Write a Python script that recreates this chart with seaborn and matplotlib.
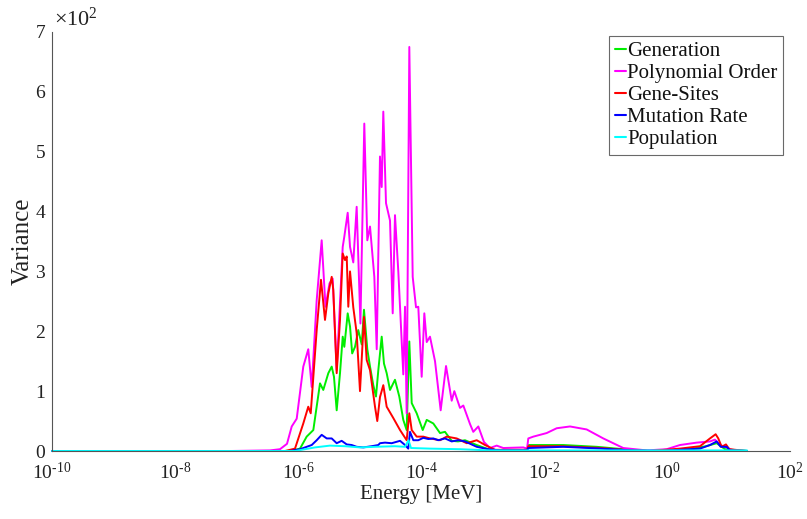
import numpy as np
import pandas as pd
import matplotlib
matplotlib.use("Agg")
import matplotlib.pyplot as plt
import seaborn as sns
from matplotlib.ticker import FixedLocator, FuncFormatter, NullLocator

# Series values: log10(E / MeV) exponents and variance
gen_logE = [-10, -6.130, -5.967, -5.859, -5.751, -5.642, -5.589, -5.507, -5.452, -5.415,
            -5.371, -5.317, -5.273, -5.247, -5.192, -5.154, -5.119, -5.073, -5.020, -4.964,
            -4.927, -4.873, -4.829, -4.776, -4.732, -4.694, -4.639, -4.602, -4.558, -4.504,
            -4.423, -4.353, -4.288, -4.233, -4.190, -4.151, -4.070, -3.972, -3.907, -3.800,
            -3.691, -3.610, -3.501, -3.398, -3.285, -3.094, -2.906, -2.715, -2.276, -2.255,
            -1.686, -1.143, -0.711, -0.276, 0.374, 0.634, 0.808, 0.943, 1.301]
gen_var = [0, 0, 4, 24, 35, 113, 102, 130, 141, 124,
           68, 130, 191, 174, 230, 208, 163, 174, 202, 178,
           236, 170, 141, 110, 91, 135, 191, 146, 130, 102,
           119, 91, 52, 35, 183, 80, 63, 35, 52, 46,
           30, 32, 17, 16, 18, 10, 3, 1, 1, 10,
           10, 7, 3, 0, 3, 8, 13, 3, 0]

poly_logE = [-10, -7.106, -6.455, -6.293, -6.179, -6.102, -6.021, -5.914, -5.833, -5.777,
             -5.696, -5.615, -5.553, -5.488, -5.436, -5.371, -5.273, -5.247, -5.192, -5.154,
             -5.101, -5.046, -4.985, -4.922, -4.873, -4.829, -4.759, -4.720, -4.667, -4.639,
             -4.613, -4.569, -4.504, -4.460, -4.423, -4.369, -4.288, -4.260, -4.233, -4.190,
             -4.135, -4.081, -4.044, -3.989, -3.946, -3.907, -3.854, -3.772, -3.680, -3.593,
             -3.501, -3.458, -3.366, -3.312, -3.203, -3.150, -3.068, -2.976, -2.878, -2.769,
             -2.662, -2.337, -2.276, -2.255, -2.174, -1.956, -1.794, -1.577, -1.306, -1.036,
             -0.711, -0.330, -0.005, 0.211, 0.483, 0.699, 0.780, 0.862, 0.943, 1.052, 1.301]
poly_var = [0, 0, 1, 3, 12, 41, 54, 141, 170, 107,
            252, 352, 241, 280, 288, 135, 341, 358, 398, 341,
            315, 408, 213, 547, 352, 375, 291, 170, 492, 441,
            567, 414, 385, 230, 394, 300, 128, 241, 63, 675,
            291, 240, 241, 124, 230, 182, 191, 150, 68, 142,
            84, 100, 72, 76, 45, 32, 41, 15, 5, 9,
            5, 6, 4, 21, 24, 30, 38, 41, 36, 21,
            5, 1, 3, 10, 14, 16, 19, 10, 7, 2, 0]

gene_logE = [-10, -6.211, -6.049, -5.914, -5.833, -5.793, -5.696, -5.626, -5.561, -5.507,
             -5.452, -5.426, -5.371, -5.317, -5.273, -5.236, -5.208, -5.182, -5.154, -5.101,
             -5.046, -4.992, -4.927, -4.883, -4.829, -4.748, -4.711, -4.667, -4.613, -4.558,
             -4.450, -4.341, -4.233, -4.190, -4.151, -4.070, -3.963, -3.854, -3.691, -3.582,
             -3.420, -3.257, -3.094, -2.959, -2.797, -2.390, -2.276, -2.255, -1.717, -1.067,
             -0.711, -0.276, 0.211, 0.537, 0.699, 0.791, 0.834, 0.889, 0.959, 1.013, 1.301]
gene_var = [0, 0, 4, 46, 74, 63, 202, 286, 219, 263,
            291, 269, 130, 219, 330, 319, 325, 241, 300, 240,
            197, 100, 224, 152, 135, 74, 50, 90, 110, 74,
            55, 35, 18, 63, 35, 24, 24, 21, 18, 24,
            21, 13, 18, 10, 2, 2, 2, 8, 8, 5,
            2, 0, 4, 8, 21, 28, 21, 7, 11, 3, 0]

mut_logE = [-10, -6.130, -5.967, -5.859, -5.777, -5.696, -5.615, -5.533, -5.452, -5.371,
            -5.290, -5.208, -5.127, -5.046, -4.938, -4.802, -4.694, -4.667, -4.585, -4.477,
            -4.341, -4.260, -4.207, -4.179, -4.125, -4.044, -3.963, -3.881, -3.800, -3.719,
            -3.610, -3.501, -3.393, -3.285, -3.094, -2.906, -2.715, -2.276, -2.255, -1.686,
            -1.067, -0.585, -0.098, 0.537, 0.699, 0.808, 0.873, 0.971, 1.024, 1.301]
mut_var = [0, 0, 3, 7, 10, 18, 27, 21, 21, 13,
           17, 11, 10, 7, 6, 8, 10, 13, 14, 13,
           17, 10, 4, 32, 18, 18, 22, 20, 21, 18,
           21, 16, 18, 16, 7, 3, 1, 1, 5, 7,
           4, 1, 0, 4, 10, 16, 7, 7, 1, 0]

pop_logE = [-10, -6.049, -5.886, -5.724, -5.480, -5.236, -4.992, -4.748, -4.423, -4.260,
            -4.203, -4.163, -3.854, -3.366, -2.878, 1.301]
pop_var = [0, 0, 3, 6, 9, 8, 6, 7, 8, 7,
           18, 5, 4, 3, 1, 1]

series_names = ["Generation", "Polynomial Order", "Gene-Sites", "Mutation Rate", "Population"]
series_colors = ["#00ee00", "#ff00ff", "#ff0000", "#0000ff", "#00ffff"]
series_data = [(gen_logE, gen_var), (poly_logE, poly_var), (gene_logE, gene_var),
               (mut_logE, mut_var), (pop_logE, pop_var)]

frames = []
for name, (lx, v) in zip(series_names, series_data):
    frames.append(pd.DataFrame({"Energy": 10.0 ** np.asarray(lx),
                                "Variance": np.asarray(v, dtype=float),
                                "Parameter": name}))
df = pd.concat(frames, ignore_index=True)

sns.set_style("white")
plt.rcParams["font.family"] = ["Liberation Serif", "DejaVu Serif"]
plt.rcParams["mathtext.fontset"] = "custom"
plt.rcParams["mathtext.rm"] = "Liberation Serif"
plt.rcParams["mathtext.it"] = "Liberation Serif:italic"
plt.rcParams["axes.unicode_minus"] = False

fig = plt.figure(figsize=(8.07, 5.19), dpi=100)
ax = fig.add_axes([52 / 807, 1 - 451 / 519, 738 / 807, 419 / 519])

sns.lineplot(data=df, x="Energy", y="Variance", hue="Parameter",
             hue_order=series_names, palette=series_colors,
             estimator=None, sort=False, linewidth=1.4, ax=ax)
for ln in ax.lines:
    ln.set_clip_on(False)

ax.set_xscale("log")
ax.set_xlim(1e-10, 1e2)
ax.set_ylim(0, 700)


def decade_label(v, pos):
    k = int(round(np.log10(v)))
    if k < 0:
        return r"$10^{\text{-}%d}$" % (-k)
    return r"$10^{%d}$" % k


ax.xaxis.set_major_locator(FixedLocator([10.0 ** k for k in range(-10, 3, 2)]))
ax.xaxis.set_minor_locator(NullLocator())
ax.xaxis.set_major_formatter(FuncFormatter(decade_label))
ax.yaxis.set_major_locator(FixedLocator(np.arange(0, 701, 100)))
ax.yaxis.set_major_formatter(FuncFormatter(lambda v, p: "%d" % round(v / 100)))

for side in ("top", "right"):
    ax.spines[side].set_visible(False)
for side in ("left", "bottom"):
    ax.spines[side].set_color("#555555")
    ax.spines[side].set_linewidth(0.8)
ax.tick_params(axis="both", direction="in", length=5, width=0.8, color="#555555",
               labelsize=14, labelcolor="#222222")
ax.tick_params(axis="x", pad=8)
ax.tick_params(axis="y", pad=5)

ax.set_xlabel("Energy [MeV]", fontsize=15, color="#222222", labelpad=1)
ax.set_ylabel("Variance", fontsize=18, color="#222222", labelpad=1)
ax.text(0.003, 1.004, r"$\times10^{2}$", transform=ax.transAxes, fontsize=16,
        color="#222222", ha="left", va="bottom")

handles, labels = ax.get_legend_handles_labels()
leg = ax.legend(handles, labels, loc="upper right", bbox_to_anchor=(0.99, 0.99),
                borderaxespad=0, frameon=True, fancybox=False, fontsize=15,
                handlelength=0.55, handletextpad=0.05, labelspacing=0.12,
                borderpad=0.25)
leg.get_frame().set_edgecolor("#444444")
leg.get_frame().set_linewidth(0.8)
for t in leg.get_texts():
    t.set_color("#111111")
for h in leg.get_lines():
    h.set_linewidth(1.5)

fig.savefig("out.png", dpi=100)
